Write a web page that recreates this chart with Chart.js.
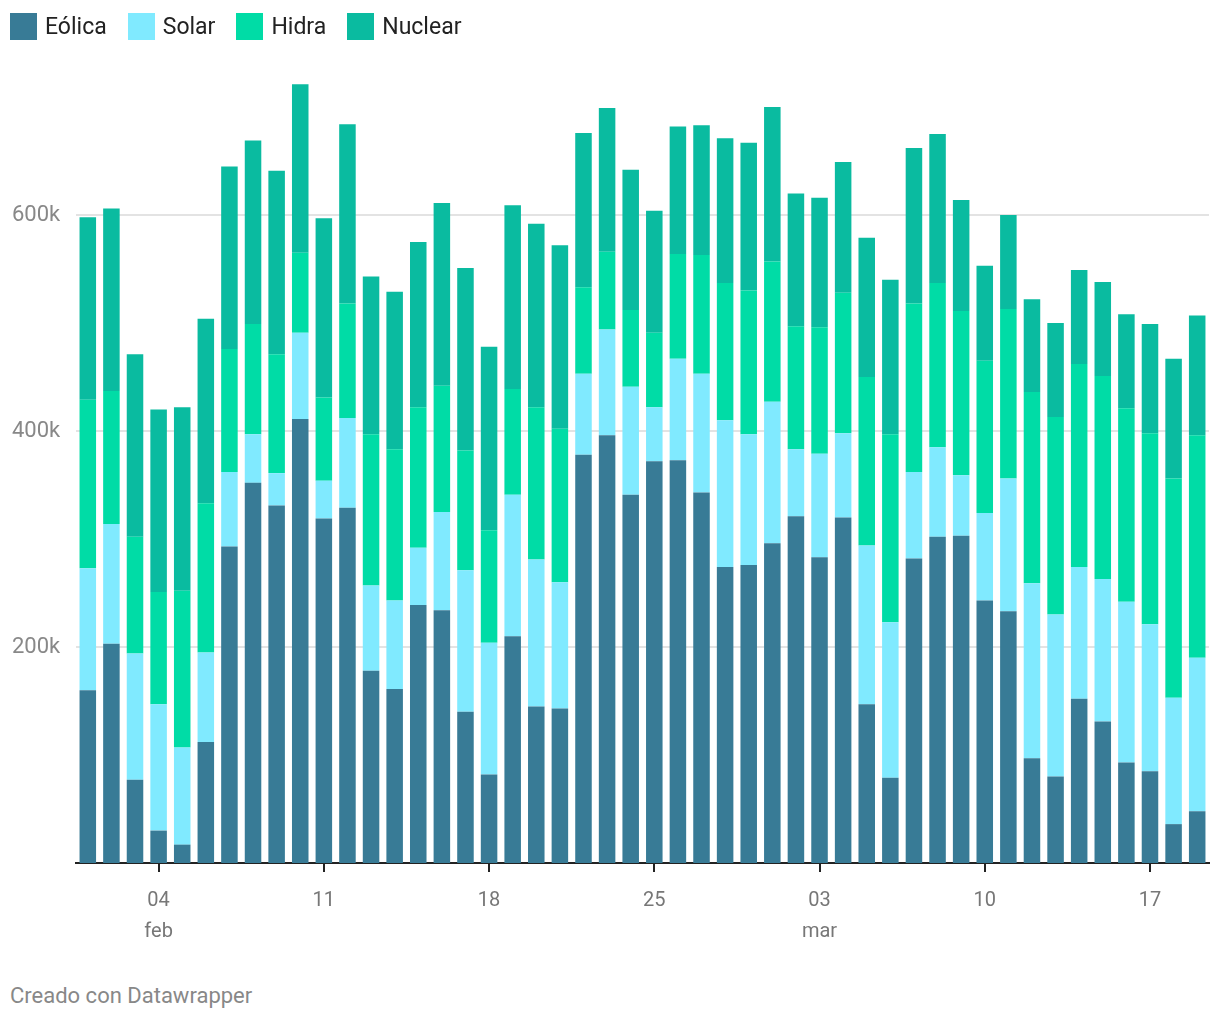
<!DOCTYPE html>
<html>
<head>
<meta charset="utf-8">
<script src="https://cdn.jsdelivr.net/npm/chart.js@4"></script>
<style>
  body { margin: 0; background: #fff; font-family: Roboto, sans-serif; }
  #wrap { position: relative; width: 1220px; height: 1020px; }
  #chart { position: absolute; left: 0; top: 0; }
  .leyenda { position: absolute; left: 10px; top: 13px; display: flex; }
  .item { display: flex; align-items: center; margin-right: 21px; font-size: 23px; color: #222; }
  .caja { width: 27px; height: 27px; margin-right: 8px; }
  .pie { position: absolute; left: 10px; top: 983px; font-size: 22px; color: #888; }
</style>
</head>
<body>
<div id="wrap">
  <canvas id="chart" width="1220" height="960"></canvas>
  <div class="leyenda" id="leyenda"></div>
  <div class="pie">Creado con Datawrapper</div>
</div>
<script>
const fechas = [
  '01 feb','02 feb','03 feb','04 feb','05 feb','06 feb','07 feb','08 feb','09 feb','10 feb',
  '11 feb','12 feb','13 feb','14 feb','15 feb','16 feb','17 feb','18 feb','19 feb','20 feb',
  '21 feb','22 feb','23 feb','24 feb','25 feb','26 feb','27 feb','28 feb','29 feb',
  '01 mar','02 mar','03 mar','04 mar','05 mar','06 mar','07 mar','08 mar','09 mar','10 mar',
  '11 mar','12 mar','13 mar','14 mar','15 mar','16 mar','17 mar','18 mar','19 mar'
]
const marcas = ['04 feb', '11 feb', '18 feb', '25 feb', '03 mar', '10 mar', '17 mar']
const conMes = ['04 feb', '03 mar']
const marcasY = [200000, 400000, 600000]

// valores en MWh (miles en el eje)
const eolica = [160, 203, 77, 30, 17, 112, 293, 352, 331, 411, 319, 329, 178, 161, 239, 234,
  140, 82, 210, 145, 143, 378, 396, 341, 372, 373, 343, 274, 276, 296, 321, 283,
  320, 147, 79, 282, 302, 303, 243, 233, 97, 80, 152, 131, 93, 85, 36, 48]
const solar = [113, 111, 117, 117, 90, 83, 69, 45, 30, 80, 35, 83, 79, 82, 53, 91,
  131, 122, 131, 136, 117, 75, 98, 100, 50, 94, 110, 136, 121, 131, 62, 96,
  78, 147, 144, 80, 83, 56, 81, 123, 162, 150, 122, 132, 149, 136, 117, 142]
const hidra = [156, 123, 108, 104, 145, 138, 114, 102, 110, 74, 77, 106, 140, 140, 130, 117,
  111, 104, 98, 141, 142, 80, 72, 71, 69, 97, 110, 127, 133, 130, 114, 117,
  130, 156, 174, 156, 152, 152, 141, 157, 177, 183, 188, 188, 179, 177, 203, 206]
const nuclear = [169, 169, 169, 169, 170, 171, 169, 170, 170, 156, 166, 166, 146, 146, 153, 169,
  169, 170, 170, 170, 170, 143, 133, 130, 113, 118, 120, 134, 137, 143, 123, 120,
  121, 129, 143, 144, 138, 103, 88, 87, 86, 87, 87, 87, 87, 101, 111, 111]

const series = [
  { label: 'Eólica', data: eolica, color: '#387b96' },
  { label: 'Solar', data: solar, color: '#80eaff' },
  { label: 'Hidra', data: hidra, color: '#00dca6' },
  { label: 'Nuclear', data: nuclear, color: '#0abba0' }
]

const leyenda = document.getElementById('leyenda')
series.forEach(s => {
  const it = document.createElement('div')
  it.className = 'item'
  it.innerHTML = '<span class="caja" style="background:' + s.color + '"></span>' + s.label
  leyenda.appendChild(it)
})

const ctx = document.getElementById('chart')
const gris = '#888888'

new Chart(ctx, {
  type: 'bar',
  data: {
    labels: fechas,
    datasets: series.map(s => ({
      label: s.label,
      data: s.data.map(v => v * 1000),
      backgroundColor: s.color,
      borderWidth: 0,
      barPercentage: 0.7,
      categoryPercentage: 1
    }))
  },
  options: {
    responsive: false,
    animation: false,
    layout: { padding: { top: 80, left: 12, right: 11, bottom: 0 } },
    plugins: {
      legend: { display: false },
      tooltip: { enabled: false }
    },
    scales: {
      x: {
        stacked: true,
        grid: {
          offset: false,
          drawOnChartArea: false,
          drawTicks: true,
          tickLength: 9,
          color: '#222',
          lineWidth: 2
        },
        border: { display: true, color: '#222', width: 2 },
        ticks: {
          autoSkip: false,
          maxRotation: 0,
          padding: 13,
          color: '#777',
          font: { family: 'Roboto', size: 20, lineHeight: 1.55 },
          callback: function (val, i) {
            const f = fechas[i]
            if (!marcas.includes(f)) return null
            const partes = f.split(' ')
            return conMes.includes(f) ? [partes[0], partes[1]] : partes[0]
          }
        },
        afterFit: function (scale) { scale.height = 97 }
      },
      y: {
        stacked: true,
        min: 0,
        max: 725000,
        border: { display: false },
        grid: {
          drawTicks: false,
          color: '#e3e3e3',
          lineWidth: 2
        },
        ticks: {
          padding: 0,
          crossAlign: 'far',
          color: gris,
          font: { family: 'Roboto', size: 22 },
          callback: v => v / 1000 + 'k'
        },
        afterBuildTicks: function (scale) {
          scale.ticks = marcasY.map(v => ({ value: v }))
        },
        afterFit: function (scale) { scale.width = 64 }
      }
    }
  }
})
</script>
</body>
</html>
